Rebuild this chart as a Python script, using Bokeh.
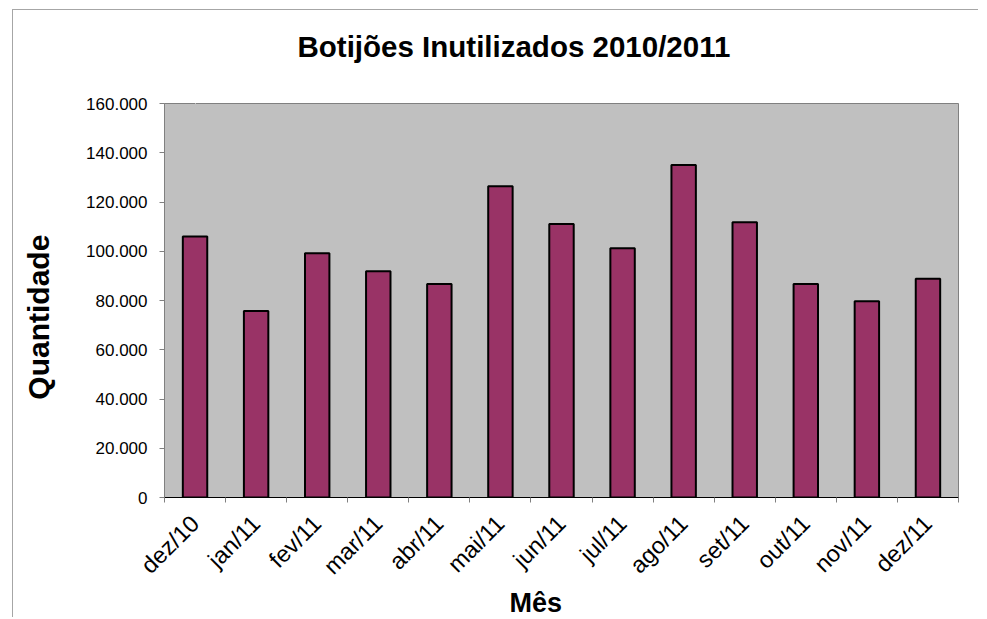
import math
from bokeh.plotting import figure
from bokeh.models import FixedTicker, Range1d, Title, LinearAxis, ColumnDataSource
from bokeh.embed import file_html
from bokeh.resources import INLINE

# ---- data ----
months = ["dez/10", "jan/11", "fev/11", "mar/11", "abr/11", "mai/11", "jun/11",
          "jul/11", "ago/11", "set/11", "out/11", "nov/11", "dez/11"]
quantities = [106000, 75700, 99200, 91900, 86700, 126400, 111100,
              101200, 135000, 111800, 86700, 79700, 88800]
y_ticks = [0, 20000, 40000, 60000, 80000, 100000, 120000, 140000, 160000]
y_tick_labels = ["0", "20.000", "40.000", "60.000", "80.000", "100.000",
                 "120.000", "140.000", "160.000"]
title_text = "Botijões Inutilizados 2010/2011"
x_title = "Mês"
y_title = "Quantidade"

FONT = "Liberation Sans"

positions = [i + 0.5 for i in range(len(months))]
boundaries = list(range(len(months) + 1))
src = ColumnDataSource(dict(x=positions, top=quantities, month=months))

p = figure(width=966, height=608, output_backend="svg", toolbar_location=None,
           x_range=Range1d(0, len(months)), y_range=Range1d(0, y_ticks[-1]),
           min_border_left=151, min_border_right=21, min_border_top=93,
           min_border_bottom=121,
           background_fill_color="#C0C0C0", border_fill_color="white")
p.styles = {"border-left": "1px solid #a6a6a6", "border-top": "1px solid #a6a6a6",
            "position": "relative", "left": "12px", "top": "9px"}
p.outline_line_color = "#808080"
p.outline_line_width = 1
p.grid.visible = False

xa = p.below[0]
ya = p.left[0]

# invisible spacer between frame and title: one white tick, no label
spacer = LinearAxis(ticker=FixedTicker(ticks=[positions[0]], minor_ticks=[]),
                    axis_line_color=None,
                    major_tick_line_color="white", minor_tick_line_color=None,
                    major_tick_out=41, major_tick_in=0, minor_tick_out=0,
                    minor_tick_in=0, major_label_standoff=0,
                    major_label_text_font_size="0px",
                    major_label_overrides={positions[0]: ""})
p.add_layout(spacer, "above")

main_title = Title(text=title_text, align="left", offset=133, vertical_align="bottom",
                   standoff=0, text_font=FONT, text_font_size="29.5px",
                   text_font_style="bold", text_color="black")
p.add_layout(main_title, "above")

p.vbar(x="x", top="top", width=0.4, source=src,
       fill_color="#993366", line_color="black", line_width=2)

xa.ticker = FixedTicker(ticks=positions, minor_ticks=boundaries)
xa.major_label_overrides = {pos: m for pos, m in zip(positions, months)}
xa.major_tick_out = 0
xa.major_tick_in = 0
xa.minor_tick_out = 5
xa.minor_tick_in = 0
xa.minor_tick_line_color = "#808080"
xa.axis_line_color = "black"
xa.major_label_orientation = math.pi / 4
xa.major_label_text_font = FONT
xa.major_label_text_font_size = "23.5px"
xa.major_label_text_color = "black"
xa.major_label_standoff = 17

ya.ticker = FixedTicker(ticks=y_ticks, minor_ticks=[])
ya.major_label_overrides = dict(zip(y_ticks, y_tick_labels))
ya.major_tick_out = 5
ya.major_tick_in = 0
ya.major_tick_line_color = "#808080"
ya.axis_line_color = "#808080"
ya.major_label_text_font = FONT
ya.major_label_text_font_size = "17px"
ya.major_label_text_color = "black"
ya.major_label_standoff = 12
# trailing no-break spaces nudge the centred label slightly downward, as in the original
ya.axis_label = y_title + "\u00a0\u00a0\u00a0\u00a0"
ya.axis_label_text_font = FONT
ya.axis_label_text_font_size = "30px"
ya.axis_label_text_font_style = "bold"
ya.axis_label_text_color = "black"
ya.axis_label_standoff = 28

xlab = Title(text=x_title, align="left", offset=345, vertical_align="bottom",
             text_font=FONT, text_font_size="27px", text_font_style="bold",
             text_color="black", standoff=-11)
p.add_layout(xlab, "below")

open("out.html", "w").write(file_html(p, INLINE))
